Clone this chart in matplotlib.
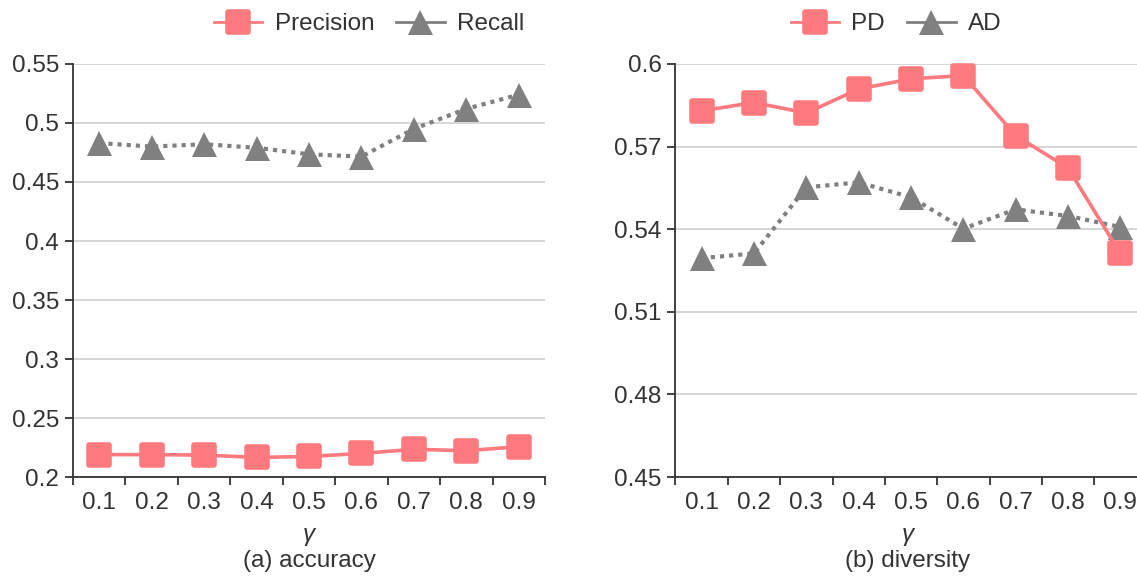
"""
Precision/recall and diversity vs. gamma, two panels side by side.
"""

import matplotlib

matplotlib.use("Agg")
import matplotlib.pyplot as plt
from matplotlib.lines import Line2D
from matplotlib.markers import MarkerStyle
from matplotlib.ticker import FixedLocator, FuncFormatter

plt.rcParams["font.family"] = ["Liberation Sans", "DejaVu Sans"]

GAMMA = ["0.1", "0.2", "0.3", "0.4", "0.5", "0.6", "0.7", "0.8", "0.9"]

PRECISION = [0.219, 0.219, 0.2186, 0.2166, 0.2174, 0.220, 0.2235, 0.2223, 0.2257]
RECALL = [0.483, 0.480, 0.482, 0.479, 0.4735, 0.4715, 0.495, 0.512, 0.524]

PD = [0.583, 0.586, 0.5822, 0.5909, 0.5946, 0.5958, 0.574, 0.5622, 0.5312]
AD = [0.5295, 0.5312, 0.5552, 0.557, 0.5516, 0.5402, 0.5472, 0.5448, 0.5408]

ACC_TICKS = [0.2, 0.25, 0.3, 0.35, 0.4, 0.45, 0.5, 0.55]
DIV_TICKS = [0.45, 0.48, 0.51, 0.54, 0.57, 0.6]

PINK = "#ff7a7e"
GRAY = "#808080"
AXIS = "#333333"
GRID = "#d0d0d0"
FS = 17.5

SQUARE = MarkerStyle("s", joinstyle="round")


def series_style(kind):
    if kind == "square":
        return dict(color=PINK, lw=2.6, ls="-", marker=SQUARE, ms=14,
                    mfc=PINK, mec=PINK, mew=4)
    return dict(color=GRAY, lw=3, ls=(0, (1, 1.2)), marker="^", ms=18,
                mfc=GRAY, mec=GRAY, mew=0)


def setup_axes(ax, ticks, caption):
    n = len(GAMMA)
    ax.set_xlim(0, n)
    ax.set_ylim(ticks[0], ticks[-1])
    ax.xaxis.set_major_locator(FixedLocator(list(range(n + 1))))
    ax.xaxis.set_major_formatter(FuncFormatter(lambda v, p: ""))
    ax.set_xticks([i + 0.5 for i in range(n)], GAMMA, minor=True)
    ax.tick_params(axis="x", which="major", length=6, width=1.3, color=AXIS)
    ax.tick_params(axis="x", which="minor", length=0, pad=11,
                   labelsize=FS, labelcolor=AXIS)
    ax.set_yticks(ticks)
    ax.yaxis.set_major_formatter(FuncFormatter(lambda v, p: f"{v:g}"))
    ax.tick_params(axis="y", length=6, width=1.3, color=AXIS, pad=4,
                   labelsize=FS, labelcolor=AXIS)
    for s in ("top", "right"):
        ax.spines[s].set_visible(False)
    for s in ("left", "bottom"):
        ax.spines[s].set_color(AXIS)
        ax.spines[s].set_linewidth(1.3)
    ax.grid(axis="y", color=GRID, lw=1.2)
    ax.set_axisbelow(True)


fig = plt.figure(figsize=(11.37, 5.78), dpi=100)
ax1 = fig.add_axes([0.0642, 0.1747, 0.4151, 0.7146])
ax2 = fig.add_axes([0.5941, 0.1747, 0.4143, 0.7146])

xs = [i + 0.5 for i in range(len(GAMMA))]

ax1.plot(xs, RECALL, clip_on=False, zorder=3, **series_style("tri"))
ax1.plot(xs, PRECISION, clip_on=False, zorder=4, **series_style("square"))
setup_axes(ax1, ACC_TICKS, "(a) accuracy")

ax2.plot(xs, AD, clip_on=False, zorder=3, **series_style("tri"))
ax2.plot(xs, PD, clip_on=False, zorder=4, **series_style("square"))
setup_axes(ax2, DIV_TICKS, "(b) diversity")

# x label and sub-caption below each panel
for cx, caption in ((309 / 1137, "(a) accuracy"), (908 / 1137, "(b) diversity")):
    fig.text(cx, 1 - 534 / 578, "γ", ha="center", va="center", fontsize=FS,
             color=AXIS, style="italic")
    fig.text(cx, 1 - 561 / 578, caption, ha="center", va="center",
             fontsize=FS, color=AXIS)


def legend_handles():
    sq = series_style("square")
    tr = series_style("tri")
    tr["ls"] = "-"
    tr["lw"] = 2
    sq["lw"] = 2
    return [Line2D([], [], **sq), Line2D([], [], **tr)]


for cx, labels in ((369 / 1137, ["Precision", "Recall"]), (896 / 1137, ["PD", "AD"])):
    fig.legend(legend_handles(), labels, loc="center", ncol=2,
               bbox_to_anchor=(cx, 1 - 24 / 578), frameon=False, fontsize=FS,
               handlelength=2.0, handletextpad=0.5, columnspacing=0.9,
               labelcolor=AXIS)

fig.savefig("out.png", dpi=100)
